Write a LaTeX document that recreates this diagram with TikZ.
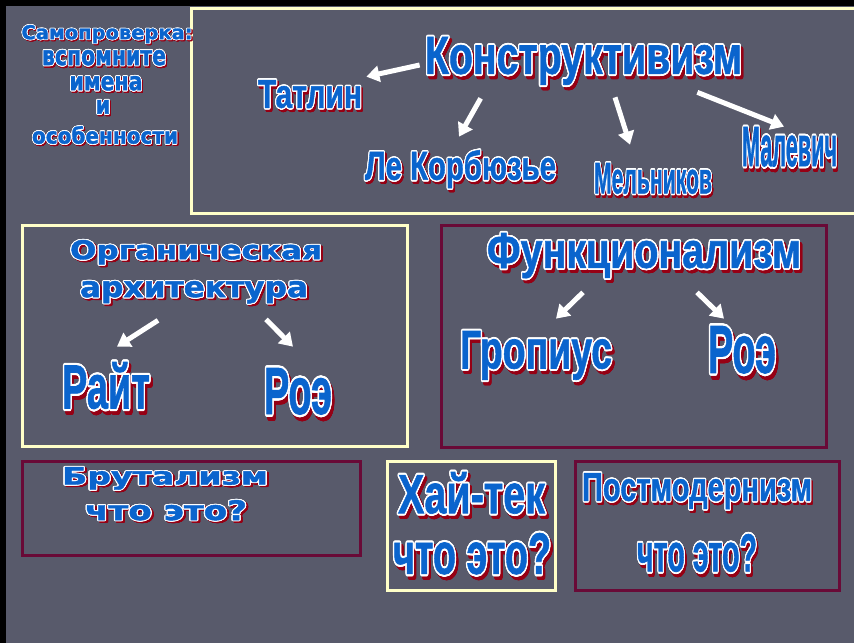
\documentclass[tikz,border=0pt]{standalone}
\usepackage{fontspec}
\setmainfont{Liberation Sans}[BoldFeatures={FakeBold=1.2}]
\newfontfamily\widefont{DejaVu Sans}[BoldFeatures={FakeBold=1.5}]
\usepackage{graphicx}
\usepackage{contour}
\usetikzlibrary{arrows.meta,calc}
\contourlength{0.35pt}
\contournumber{16}
\definecolor{slidebg}{RGB}{88,90,107}
\definecolor{wablue}{RGB}{10,100,205}
\definecolor{wared}{RGB}{150,0,20}
\definecolor{cream}{RGB}{255,255,200}
\definecolor{maroon}{RGB}{105,10,55}
\newlength{\pxu}\setlength{\pxu}{0.02cm}
% word art: width, height (px), font, text
\newcommand{\wa}[4]{\resizebox*{#1\pxu}{#2\pxu}{#3\bfseries
  \rlap{\kern0.6pt\raisebox{-0.6pt}{\contour{wared}{\textcolor{wared}{#4}}}}%
  \contour{white}{\textcolor{wablue}{#4}}}}
\tikzset{
  frame/.style={line width=0.06cm},
  warrow/.style={white, line width=0.1cm, -{Triangle[length=0.26cm,width=0.32cm]}},
  word/.style={inner sep=0pt}
}
\begin{document}
\begin{tikzpicture}[x=0.02cm,y=-0.02cm]
\useasboundingbox (0,0) rectangle (854,643);
\clip (0,0) rectangle (854,643);
\fill[black] (0,0) rectangle (854,643);
\fill[slidebg] (6,6) rectangle (854,643);
% frames
\draw[frame,cream] (191,8) rectangle (862,213);
\draw[frame,cream] (22,225) rectangle (407,446);
\draw[frame,maroon] (441,225) rectangle (826,447);
\draw[frame,maroon] (22,461) rectangle (360,555);
\draw[frame,cream] (387,461) rectangle (555,590);
\draw[frame,maroon] (575,461) rectangle (839,590);
% self check
\node[word] (self1) at (107,35) {\wa{171}{20}{\widefont}{Самопроверка:}};
\node[word] (self2) at (104,59) {\wa{124}{18}{\widefont}{вспомните}};
\node[word] (self3) at (106,84.5) {\wa{73}{17}{\widefont}{имена}};
\node[word] (self4) at (103,108) {\wa{15}{16}{\widefont}{и}};
\node[word] (self5) at (105,136) {\wa{146}{20}{\widefont}{особенности}};
% constructivism
\node[word] (konstr) at (583.5,63.5) {\wa{317}{53}{}{Конструктивизм}};
\node[word] (tatlin) at (310,96) {\wa{104}{32}{}{Татлин}};
\node[word] (lekor) at (460.5,171) {\wa{191}{42}{}{Ле Корбюзье}};
\node[word] (meln) at (653,180.5) {\wa{118}{35}{}{Мельников}};
\node[word] (malev) at (789.5,149.5) {\wa{95}{45}{}{Малевич}};
\draw[warrow] ($(konstr.west)+(-5,1.5)$) -- ($(tatlin.north east)+(4,-3)$);
\draw[warrow] ($(konstr.south west)+(56,8)$) -- ($(lekor.north)+(-1.5,-13)$);
\draw[warrow] ($(konstr.south)+(31.5,7)$) -- ($(meln.north)+(-23,-18)$);
\draw[warrow] ($(konstr.south east)+(-45,2)$) -- ($(malev.north)+(-5.5,0)$);
% organic
\node[word] (org1) at (196,253.5) {\wa{252}{27}{\widefont}{Органическая}};
\node[word] (org2) at (194,293.5) {\wa{228}{25}{\widefont}{архитектура}};
\node[word] (rait) at (106,388.5) {\wa{88}{53}{}{Райт}};
\node[word] (roe1) at (298,394.5) {\wa{68}{53}{}{Роэ}};
\draw[warrow] ($(org2.south)+(-36,14)$) -- ($(rait.north)+(11,-15)$);
\draw[warrow] ($(org2.south)+(72,13)$) -- ($(roe1.north)+(-5,-21)$);
% functionalism
\node[word] (func) at (644,258) {\wa{314}{50}{}{Функционализм}};
\node[word] (grop) at (536,358) {\wa{152}{54}{}{Гропиус}};
\node[word] (roe2) at (742,353) {\wa{68}{54}{}{Роэ}};
\draw[warrow] ($(func.south)+(-61,9)$) -- ($(grop.north)+(20,-12)$);
\draw[warrow] ($(func.south)+(53,9)$) -- ($(roe2.north)+(-18,-7)$);
% bottom row
\node[word] (brut) at (165,479.5) {\wa{206}{25}{\widefont}{Брутализм}};
\node[word] (brutq) at (166,511.5) {\wa{162}{23}{\widefont}{что это?}};
\node[word] (hitech) at (471.5,495.5) {\wa{147}{47}{}{Хай-тек}};
\node[word] (hitechq) at (472,556.5) {\wa{158}{47}{}{что это?}};
\node[word] (postm) at (697,493) {\wa{230}{40}{}{Постмодернизм}};
\node[word] (postmq) at (697,555.5) {\wa{120}{43}{}{что это?}};
\end{tikzpicture}
\end{document}
